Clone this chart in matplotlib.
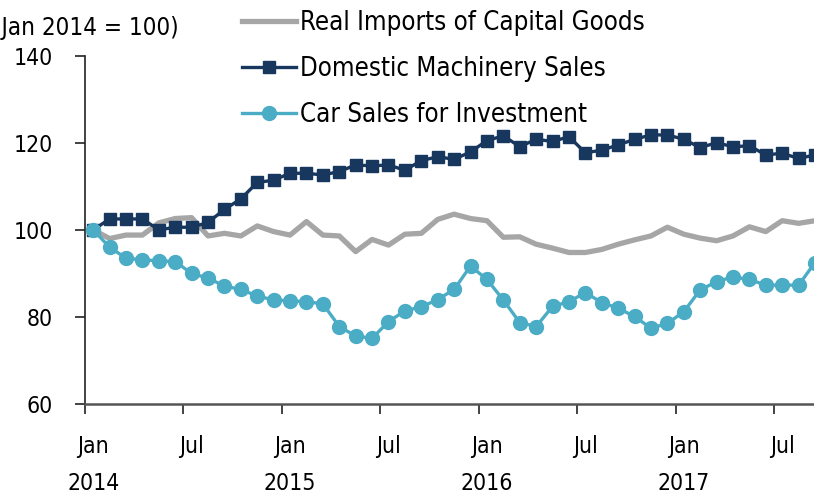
import matplotlib
matplotlib.use("Agg")
import matplotlib.pyplot as plt
from matplotlib import font_manager as fm
import numpy as np

# ---- data (monthly, Jan 2014 .. Sep 2017, Jan 2014 = 100) ----
months = list(range(45))
real_imports = [100.0, 98.0, 98.8, 98.8, 101.6, 102.6, 102.8, 98.6, 99.2, 98.6,
                100.9, 99.6, 98.8, 101.9, 98.8, 98.6, 95.0, 97.8, 96.5, 99.0,
                99.2, 102.4, 103.6, 102.6, 102.1, 98.3, 98.4, 96.7, 95.8, 94.8,
                94.8, 95.5, 96.7, 97.7, 98.6, 100.6, 99.0, 98.1, 97.5, 98.6,
                100.7, 99.6, 102.1, 101.5, 102.1]
machinery = [100.0, 102.5, 102.5, 102.5, 100.0, 100.6, 100.6, 101.7, 104.7, 107.1,
             110.9, 111.4, 113.0, 113.0, 112.6, 113.4, 114.9, 114.7, 114.9, 113.7,
             115.9, 116.8, 116.2, 117.9, 120.5, 121.6, 119.1, 120.8, 120.3, 121.4,
             117.7, 118.3, 119.5, 120.8, 121.8, 121.8, 120.8, 118.9, 120.0, 119.1,
             119.3, 117.2, 117.6, 116.4, 117.2]
car_sales = [100.0, 96.0, 93.5, 93.1, 92.9, 92.7, 90.0, 88.9, 87.1, 86.3,
             84.8, 83.9, 83.7, 83.5, 83.0, 77.8, 75.6, 75.1, 78.9, 81.4,
             82.3, 84.0, 86.3, 91.7, 88.6, 83.9, 78.7, 77.8, 82.4, 83.5,
             85.6, 83.3, 82.0, 80.1, 77.4, 78.5, 81.2, 86.2, 88.1, 89.2,
             88.6, 87.3, 87.3, 87.3, 92.5]
tick_months = [0, 6, 12, 18, 24, 30, 36, 42]
tick_labels = ["Jan\n2014", "Jul", "Jan\n2015", "Jul", "Jan\n2016", "Jul", "Jan\n2017", "Jul"]
y_ticks = [60, 80, 100, 120, 140]
series_names = ["Real Imports of Capital Goods", "Domestic Machinery Sales", "Car Sales for Investment"]

# ---- font ----
stretch = "normal"
for f in fm.findSystemFonts():
    if "DejaVuSansCondensed.ttf" in f:
        fm.fontManager.addfont(f)
        stretch = "condensed"
        break
plt.rcParams["font.family"] = ["DejaVu Sans"]
plt.rcParams["font.stretch"] = stretch

FS_TICK = 16.5
FS_LEG = 18.5
W, H = 814, 496
fig = plt.figure(figsize=(W / 100, H / 100), dpi=100)
left_px, right_px, top_px, bot_px = 85, 830, 55.7, 404
ax = fig.add_axes([left_px / W, (H - bot_px) / H, (right_px - left_px) / W, (bot_px - top_px) / H])

x = np.array(months) + 0.5
c_gray = "#A6A6A6"
c_navy = "#17375E"
c_cyan = "#4BACC6"

ax.plot(x, real_imports, color=c_gray, lw=3.8, label=series_names[0], zorder=2)
ax.plot(x, machinery, color=c_navy, lw=2.4, marker="s", ms=8.5, label=series_names[1], zorder=3)
ax.plot(x, car_sales, color=c_cyan, lw=2.4, marker="o", ms=10, label=series_names[2], zorder=4)

ax.set_xlim(0, (right_px - left_px) / 16.405)
ax.set_ylim(60, 140)
ax.set_yticks(y_ticks)
ax.set_yticklabels([str(v) for v in y_ticks], fontsize=FS_TICK)

# major ticks at month boundaries (marks only), labels centred on the month
ax.set_xticks(tick_months)
ax.set_xticklabels([""] * len(tick_months))
ax.set_xticks(np.array(tick_months) + 0.5, minor=True)
ax.set_xticklabels(tick_labels, minor=True, fontsize=FS_TICK, linespacing=1.8, va="top")

for s in ["top", "right"]:
    ax.spines[s].set_visible(False)
ax.spines["left"].set_color("#222222")
ax.spines["left"].set_linewidth(1.2)
ax.spines["bottom"].set_color("#555555")
ax.spines["bottom"].set_linewidth(1.8)
ax.tick_params(axis="y", direction="out", length=7, width=1.2, pad=16, colors="#222222", labelcolor="black")
ax.tick_params(axis="x", which="major", direction="out", length=7, width=1.2, colors="#222222")
ax.tick_params(axis="x", which="minor", length=0, pad=22, labelcolor="black")

fig.text(179 / W, (H - 35) / H, "(Jan 2014 = 100)", fontsize=17.4, ha="right", va="baseline")

leg = fig.legend(loc="upper left", bbox_to_anchor=(237 / W, 1.0 - 5 / H), frameon=False,
                 fontsize=FS_LEG, handlelength=2.1, handletextpad=0.16, labelspacing=0.78,
                 numpoints=1, borderaxespad=0, borderpad=0.2)

fig.savefig("out.png", dpi=100)
